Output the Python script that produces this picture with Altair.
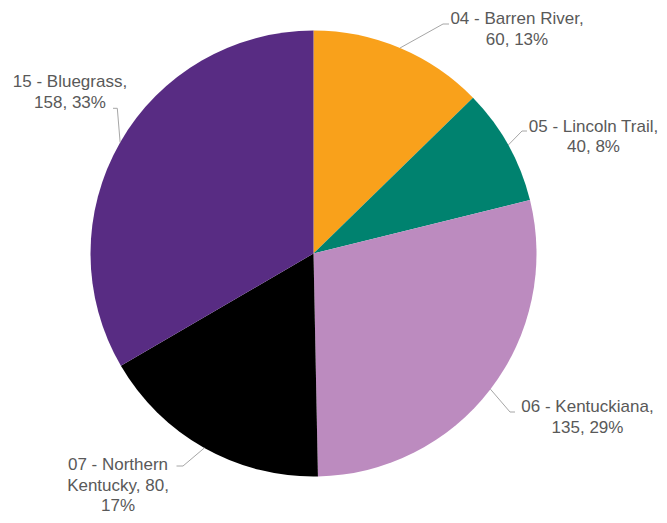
import math
import textwrap
import altair as alt
import pandas as pd

# ---- data ----
regions = ["04 - Barren River", "05 - Lincoln Trail", "06 - Kentuckiana",
           "07 - Northern Kentucky", "15 - Bluegrass"]
counts = [60, 40, 135, 80, 158]

# ---- styling / layout ----
colors = ["#F9A11B", "#00826F", "#BC8BBF", "#000000", "#582C83"]
wrap_widths = [18, 19, 17, 14, 15]
W, H = 651, 507
CX, CY, R = 305.5, 245.5, 223
# elbow point, tail end, text anchor (x center, first baseline)
elbows = [(435, 16), (514, 123), (502, 404), (175, 458), (109.3, 100.3)]
tails = [(441, 16), (519, 123), (507, 404), (168.5, 458), (105, 100.3)]
text_pos = [(509, 16), (585.5, 123.5), (579.5, 404), (110, 462), (62, 79)]

total = sum(counts)
pie_df = pd.DataFrame({"region": regions, "count": counts, "idx": range(len(regions))})

label_rows, line_rows = [], []
cum = 0
for i, (reg, c) in enumerate(zip(regions, counts)):
    mid = (cum + c / 2) / total * 2 * math.pi
    cum += c
    pct = round(100 * c / total)
    txt = "\n".join(textwrap.wrap(f"{reg}, {c}, {pct}%", wrap_widths[i]))
    label_rows.append({"region": reg, "tx": text_pos[i][0], "ty": text_pos[i][1], "text": txt})
    sx, sy = CX + R * math.sin(mid), CY - R * math.cos(mid)
    for s, (px, py) in enumerate([(sx, sy), elbows[i], tails[i]]):
        line_rows.append({"region": reg, "seq": s, "px": px, "py": py})

labels_df = pd.DataFrame(label_rows)
lines_df = pd.DataFrame(line_rows)

xs = alt.Scale(domain=[0, W], nice=False, zero=False)
ys = alt.Scale(domain=[0, H], nice=False, zero=False, reverse=True)

pie = alt.Chart(pie_df).mark_arc(radius=R).encode(
    theta=alt.Theta("count:Q", stack=True),
    order=alt.Order("idx:Q"),
    color=alt.Color("region:N", scale=alt.Scale(domain=regions, range=colors), legend=None),
    x=alt.value(CX),
    y=alt.value(CY),
)

leaders = alt.Chart(lines_df).mark_line(color="#A6A6A6", strokeWidth=1).encode(
    x=alt.X("px:Q", scale=xs, axis=None),
    y=alt.Y("py:Q", scale=ys, axis=None),
    detail="region:N",
    order="seq:Q",
)

texts = alt.Chart(labels_df).mark_text(
    align="center", baseline="alphabetic", lineBreak="\n", lineHeight=20.5,
    fontSize=17, font="Liberation Sans", color="#595959",
).encode(
    x=alt.X("tx:Q", scale=xs, axis=None),
    y=alt.Y("ty:Q", scale=ys, axis=None),
    text="text:N",
)

chart = alt.layer(pie, leaders, texts).properties(
    width=W, height=H, autosize=alt.AutoSizeParams(type="none"), padding=0,
).configure_view(stroke=None)

chart.save("out.html", embed_options={"renderer": "svg", "actions": False})
